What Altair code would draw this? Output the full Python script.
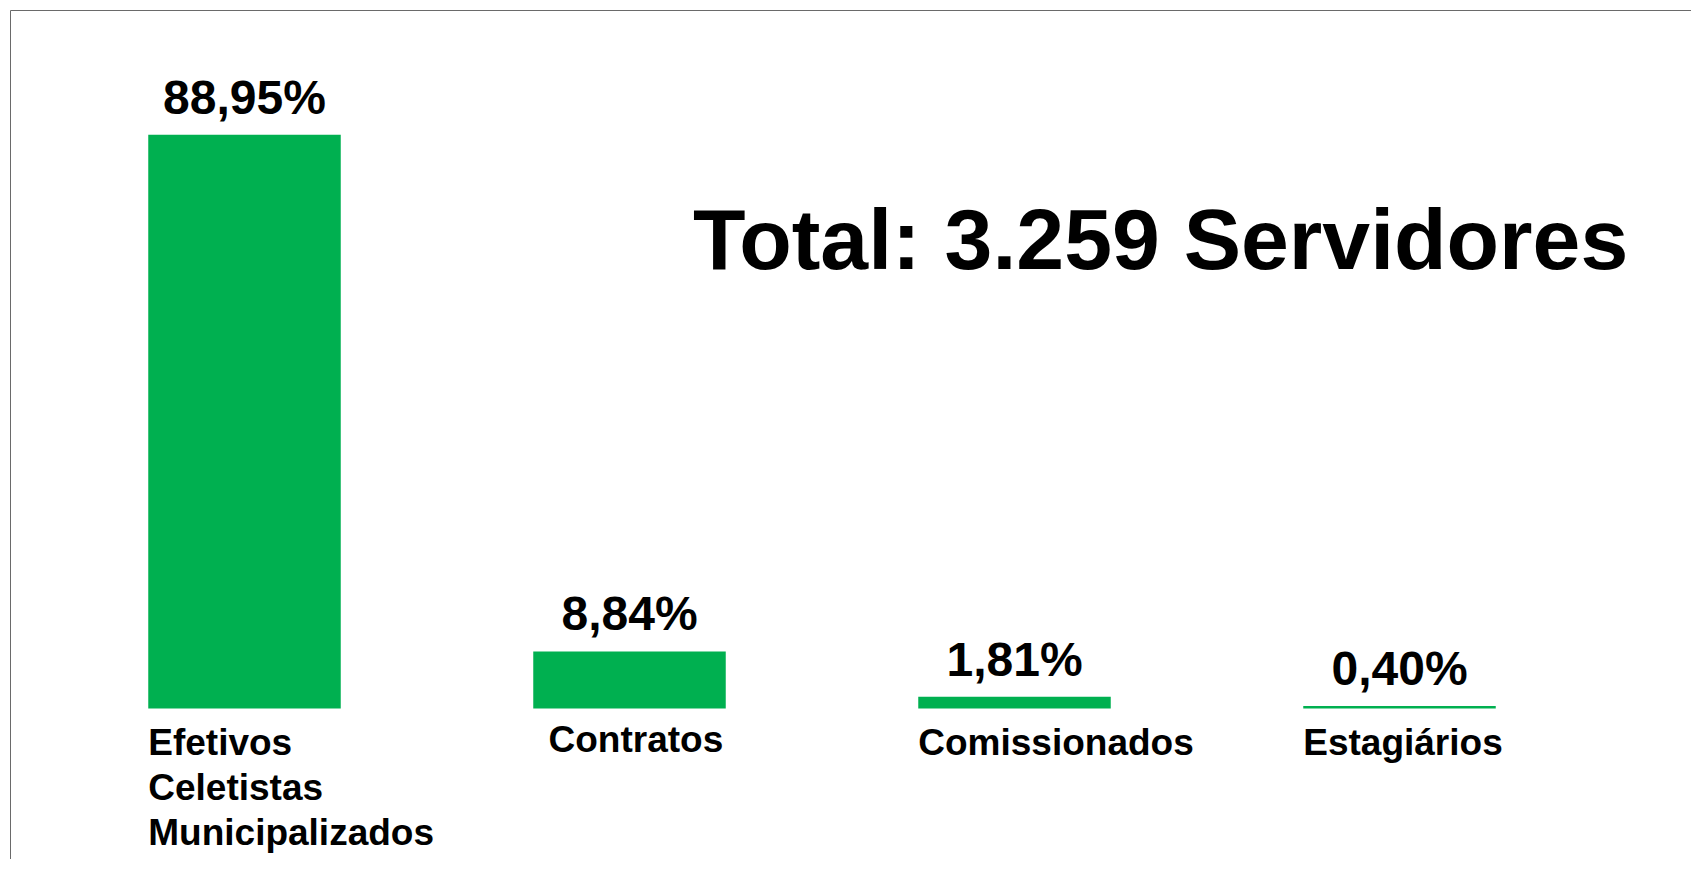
import altair as alt
import pandas as pd

# Data
categorias = ["Efetivos\nCeletistas\nMunicipalizados", "Contratos", "Comissionados", "Estagiários"]
percentuais = [88.95, 8.84, 1.81, 0.40]
rotulos = ["88,95%", "8,84%", "1,81%", "0,40%"]
titulo = "Total: 3.259 Servidores"

FONT = "Liberation Sans"
VERDE = "#00B050"

df = pd.DataFrame({"cat": categorias, "pct": percentuais, "rot": rotulos})

x = alt.X("cat:N", sort=categorias,
          scale=alt.Scale(paddingInner=0.5, paddingOuter=0.25), axis=None)
y = alt.Y("pct:Q", scale=alt.Scale(domain=[0, 100], nice=False, zero=True), axis=None)

base = alt.Chart(df)

bars = base.mark_bar(color=VERDE).encode(x=x, y=y)

valores = base.mark_text(
    font=FONT, fontSize=48, fontWeight="bold", color="black",
    align="center", baseline="alphabetic", dy=-21
).encode(x=x, y=y, text="rot:N")

nomes = base.transform_filter(alt.datum.cat != "Contratos").mark_text(
    font=FONT, fontSize=37, fontWeight="bold", color="black",
    align="left", baseline="alphabetic", dx=-96.25, dy=46,
    lineBreak="\n", lineHeight=45
).encode(x=x, y=alt.datum(0), text="cat:N")

nome_contratos = base.transform_filter(alt.datum.cat == "Contratos").mark_text(
    font=FONT, fontSize=37, fontWeight="bold", color="black",
    align="left", baseline="alphabetic", dx=-81, dy=43
).encode(x=x, y=alt.datum(0), text="cat:N")

total = alt.Chart(pd.DataFrame({"t": [titulo]})).mark_text(
    font=FONT, fontSize=86, fontWeight="bold", color="black",
    align="left", baseline="alphabetic"
).encode(x=alt.value(641), y=alt.value(205), text="t:N")

borda = pd.DataFrame({"b": [0]})
borda_topo = alt.Chart(borda).mark_rule(color="#6a6a6a", strokeWidth=1).encode(
    x=alt.value(-41.5), x2=alt.value(1700), y=alt.value(-53))
borda_esq = alt.Chart(borda).mark_rule(color="#6a6a6a", strokeWidth=1).encode(
    x=alt.value(-41.5), y=alt.value(-53), y2=alt.value(900))

chart = alt.layer(borda_topo, borda_esq, bars, valores, nomes, nome_contratos, total).properties(
    width=1540, height=645,
    autosize=alt.AutoSizeParams(type="none"),
    padding={"left": 44, "top": 55.5, "right": 99, "bottom": 150},
).configure(background="white").configure_view(strokeWidth=0, stroke="transparent")

chart.save("out.html", embed_options={"renderer": "svg", "actions": False})
